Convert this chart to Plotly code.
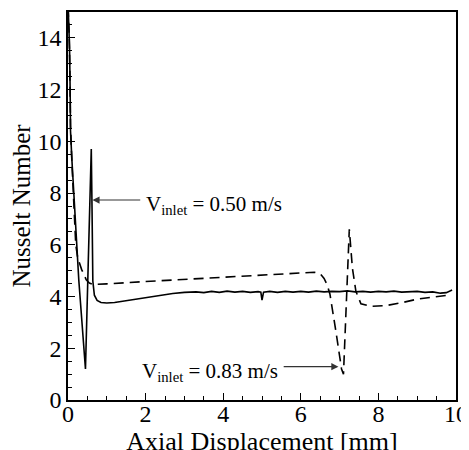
import plotly.graph_objects as go

# V_inlet = 0.50 m/s (solid)
solid_x = [0.00, 0.02, 0.04, 0.055, 0.065, 0.10, 0.15, 0.21, 0.28, 0.35, 0.40, 0.45,
           0.52, 0.60, 0.62, 0.64, 0.68, 0.75, 0.85, 1.00, 1.20, 1.50, 1.80, 2.10,
           2.40, 2.70, 3.00, 3.30, 3.50, 3.70, 3.90, 4.10, 4.30, 4.50, 4.70, 4.90,
           4.97, 5.00, 5.04, 5.20, 5.40, 5.60, 5.80, 6.00, 6.20, 6.40, 6.60, 6.80,
           7.00, 7.20, 7.40, 7.60, 7.80, 8.00, 8.20, 8.40, 8.60, 8.80, 9.00, 9.20,
           9.40, 9.60, 9.75, 9.90]
solid_y = [15.4, 14.6, 13.6, 12.0, 10.4, 9.3, 7.9, 6.1, 4.6, 3.2, 2.2, 1.2,
           5.2, 9.7, 7.3, 4.6, 4.05, 3.85, 3.77, 3.75, 3.77, 3.84, 3.92, 4.00,
           4.07, 4.12, 4.16, 4.18, 4.15, 4.20, 4.16, 4.21, 4.17, 4.20, 4.16, 4.19,
           4.17, 3.86, 4.17, 4.20, 4.16, 4.20, 4.17, 4.20, 4.17, 4.21, 4.18, 4.20,
           4.19, 4.22, 4.18, 4.20, 4.17, 4.20, 4.18, 4.21, 4.17, 4.19, 4.20, 4.16,
           4.18, 4.13, 4.15, 4.25]

# V_inlet = 0.83 m/s (dashed)
dash_x = [0.00, 0.03, 0.05, 0.065, 0.10, 0.15, 0.20, 0.25, 0.35, 0.47, 0.55, 0.65,
          1.00, 2.00, 3.00, 4.00, 5.00, 6.00, 6.35, 6.50, 6.60, 6.68, 6.75, 6.90,
          7.05, 7.10, 7.25, 7.33, 7.42, 7.55, 7.80, 8.20, 8.60, 9.00, 9.40, 9.80]
dash_y = [15.2, 14.2, 12.5, 10.6, 9.2, 7.7, 6.0, 5.5, 5.05, 4.65, 4.52, 4.47,
          4.49, 4.58, 4.66, 4.74, 4.82, 4.92, 4.94, 4.88, 4.70, 4.45, 4.10, 2.70,
          1.20, 1.00, 6.60, 5.10, 4.20, 3.72, 3.62, 3.65, 3.76, 3.90, 3.98, 4.05]

x_ticks = [0, 2, 4, 6, 8, 10]
y_ticks = [0, 2, 4, 6, 8, 10, 12, 14]

label_050 = "V<sub>inlet</sub> = 0.50 m/s"
label_083 = "V<sub>inlet</sub> = 0.83 m/s"

FONT = "Liberation Serif, Times New Roman, serif"

fig = go.Figure()
fig.add_trace(go.Scatter(x=solid_x, y=solid_y, mode="lines",
                         line=dict(color="black", width=1.6), showlegend=False,
                         cliponaxis=True))
fig.add_trace(go.Scatter(x=dash_x, y=dash_y, mode="lines",
                         line=dict(color="black", width=1.6, dash="10px,6px"),
                         showlegend=False, cliponaxis=True))

axis_common = dict(showgrid=False, zeroline=False, showline=True, mirror=True,
                   linecolor="black", linewidth=1.5, ticks="inside", ticklen=7,
                   tickwidth=1, tickcolor="black", automargin=False,
                   tickfont=dict(family=FONT, size=24, color="black"),
                   minor=dict(ticks="inside", ticklen=4, tickwidth=1, tickcolor="black"))

fig.update_xaxes(range=[0, 10], tickvals=x_ticks, ticktext=[str(v) for v in x_ticks],
                 minor_dtick=0.5, ticklabelstandoff=-9,
                 title=dict(text="Axial Displacement [mm]", standoff=6,
                            font=dict(family=FONT, size=26, color="black")),
                 **axis_common)
fig.update_yaxes(range=[0, 15], tickvals=y_ticks, ticktext=[str(v) for v in y_ticks],
                 minor_dtick=0.5,
                 title=dict(text="Nusselt Number", standoff=2,
                            font=dict(family=FONT, size=25, color="black")),
                 **axis_common)

# arrows
fig.add_annotation(x=0.63, y=7.73, ax=1.90, ay=7.73, xref="x", yref="y",
                   axref="x", ayref="y", text="", showarrow=True,
                   arrowhead=2, arrowsize=1.3, arrowwidth=1.1, arrowcolor="#333")
fig.add_annotation(x=6.97, y=1.29, ax=5.52, ay=1.29, xref="x", yref="y",
                   axref="x", ayref="y", text="", showarrow=True,
                   arrowhead=2, arrowsize=1.3, arrowwidth=1.1, arrowcolor="#333")
# labels
fig.add_annotation(x=1.96, y=7.73, xref="x", yref="y", text=label_050,
                   showarrow=False, xanchor="left", yanchor="middle", yshift=-5,
                   font=dict(family=FONT, size=21, color="black"))
fig.add_annotation(x=1.86, y=1.29, xref="x", yref="y", text=label_083,
                   showarrow=False, xanchor="left", yanchor="middle", yshift=-5,
                   font=dict(family=FONT, size=21, color="black"))

# the page body adds an 8px offset; margins compensate for it
fig.update_layout(width=469, height=450, margin=dict(l=60, r=21, t=4, b=58),
                  plot_bgcolor="white", paper_bgcolor="white",
                  font=dict(family=FONT, color="black"))

fig.write_html("out.html")
